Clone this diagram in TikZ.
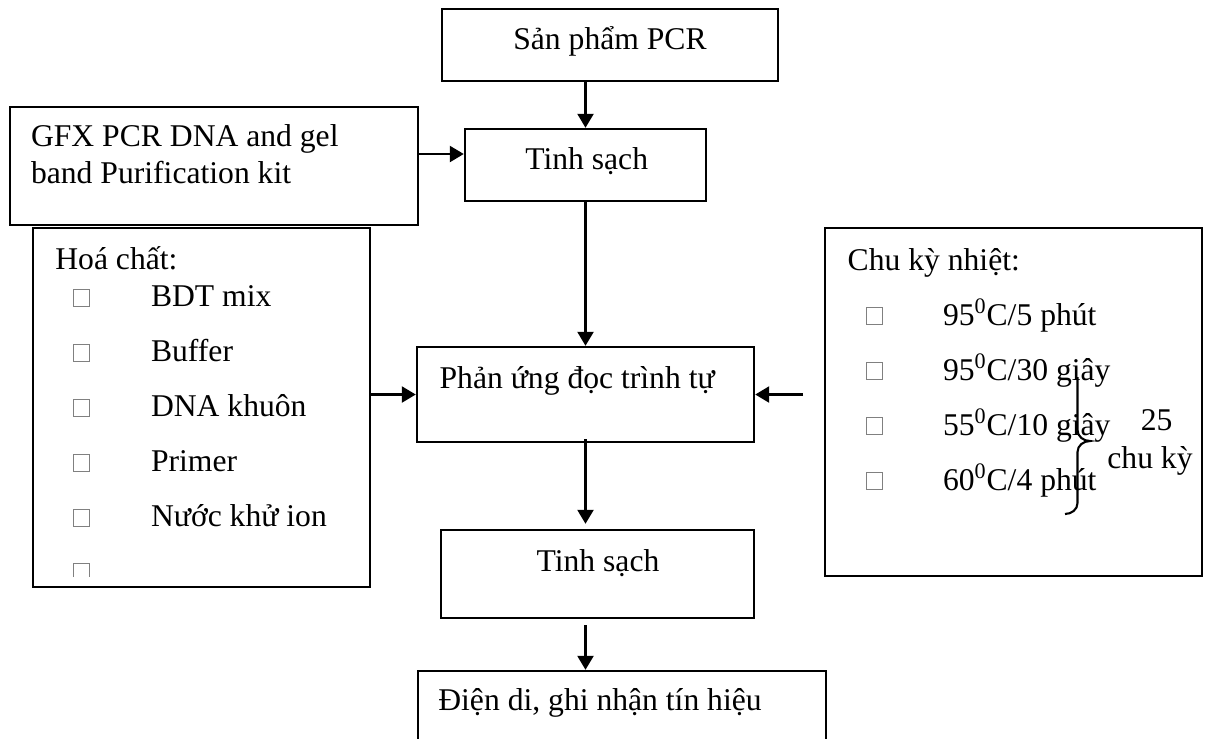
\documentclass[tikz,border=0pt]{standalone}
\usepackage{fontspec}
\setmainfont{Liberation Serif}
\usetikzlibrary{arrows.meta}

\begin{document}
\begin{tikzpicture}[x=0.2mm,y=-0.2mm,
  box/.style={draw,line width=1.4pt,inner sep=0pt},
  txt/.style={inner sep=0pt,font=\fontsize{18}{21.6}\selectfont},
  chk/.style={draw=gray,line width=0.5pt,inner sep=0pt,minimum width=3.2mm,minimum height=3.4mm,anchor=south},
  arr/.style={line width=1.4pt,-{Triangle[length=2.8mm,width=3.2mm]}}]
\useasboundingbox (0,0) rectangle (1210,738);
\clip (0,0) rectangle (1210,738);

% boxes
\node[box,minimum width=67.2mm,minimum height=14.4mm] (sp) at (610,45) {};
\node[box,minimum width=48.2mm,minimum height=14.4mm] (ts1) at (585.5,165) {};
\node[box,minimum width=81.6mm,minimum height=23.6mm] (gfx) at (214,166) {};
\node[box,minimum width=67.4mm,minimum height=71.8mm] (hc) at (201.5,407.5) {};
\node[box,minimum width=67.4mm,minimum height=19mm] (pu) at (585.5,394.5) {};
\node[box,minimum width=75.4mm,minimum height=69.6mm] (ck) at (1013.5,402) {};
\node[box,minimum width=62.6mm,minimum height=17.6mm] (ts2) at (597.5,574) {};
\node[box,minimum width=81.6mm,minimum height=23.8mm] (dd) at (622,730.5) {};

% texts
\node[txt,anchor=base] (sptext) at (610,49.3) {Sản phẩm PCR};
\node[txt,anchor=base] (ts1text) at (586.7,169) {Tinh sạch};
\node[txt,anchor=base west] (gfxa) at (30.7,146.7) {GFX PCR DNA and gel};
\node[txt,anchor=base west] (gfxb) at (30.7,183.3) {band Purification kit};
\node[txt,anchor=base west] (putext) at (439.3,388.3) {Phản ứng đọc trình tự};
\node[txt,anchor=base] (ts2text) at (598,571.7) {Tinh sạch};
\node[txt,anchor=base west] (ddtext) at (438,710) {Điện di, ghi nhận tín hiệu};

% hoa chat
\node[txt,anchor=base west] (hctitle) at (55,269) {Hoá chất:};
\foreach \t [count=\i] in {BDT mix,Buffer,DNA khuôn,Primer,Nước khử ion}{
  \node[chk] (hcb\i) at (81,{251.7+55*\i}) {};
  \node[txt,anchor=base west] (hct\i) at (150.7,{251.7+55*\i}) {\t};
}
\draw[gray,line width=0.5pt] (73,577) -- (73,563) -- (89,563) -- (89,577);

% chu ky nhiet
\node[txt,anchor=base west] (cktitle) at (847.3,270) {Chu kỳ nhiệt:};
\foreach \t [count=\i] in {95\textsuperscript{0}C/5 phút,95\textsuperscript{0}C/30 giây,55\textsuperscript{0}C/10 giây,60\textsuperscript{0}C/4 phút}{
  \node[chk] (ckb\i) at (874,{270+55*\i}) {};
  \node[txt,anchor=base west] (ckt\i) at (942.7,{270+55*\i}) {\t};
}
\draw[line width=1.2pt] (1077.5,377) -- (1077.5,430) to[out=-90,in=180] (1090,441)
  to[out=180,in=90] (1077.5,452) -- (1077.5,503) to[out=-90,in=0] (1065,514);
\node[txt,anchor=base] (n25) at (1156.7,430) {25};
\node[txt,anchor=base] (nck) at (1150,468.3) {chu kỳ};

% arrows
\coordinate (ckin) at (803,394.5);
\draw[arr] (ts1.north |- sp.south) -- (ts1.north);
\draw[arr] ([yshift=2.4mm]gfx.east) -- ([yshift=2.4mm]gfx.east -| ts1.west);
\draw[arr] (ts1.south) -- (ts1.south |- pu.north);
\draw[arr] (hc.east |- pu.west) -- (pu.west);
\draw[arr] (ckin) -- (pu.east);
\draw[arr,shorten >=1mm] ([yshift=0.8mm]pu.south) -- (pu.south |- ts2.north);
\draw[arr,shorten <=1.2mm] (pu.south |- ts2.south) -- (pu.south |- dd.north);
\end{tikzpicture}
\end{document}
